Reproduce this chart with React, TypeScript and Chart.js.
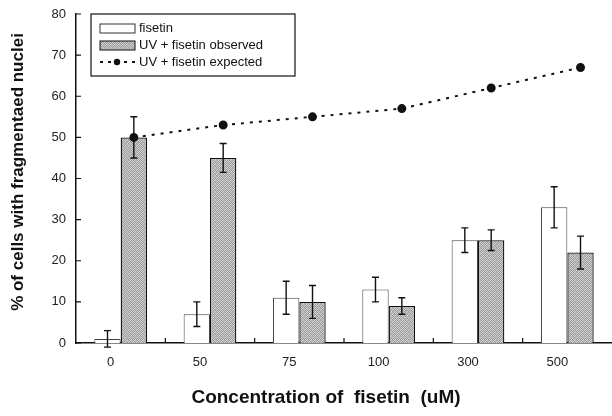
import React, { useEffect, useRef } from "react";
import { Chart, registerables } from "chart.js";

Chart.register(...registerables);

const categories = ["0", "50", "75", "100", "300", "500"];
const fisetin = [1, 7, 11, 13, 25, 33];
const fisetinErr = [2, 3, 4, 3, 3, 5];
const uvObserved = [50, 45, 10, 9, 25, 22];
const uvObservedErr = [5, 3.5, 4, 2, 2.5, 4];
const uvExpected = [50, 53, 55, 57, 62, 67];
const yTicks = [0, 10, 20, 30, 40, 50, 60, 70, 80];

const FONT = "'Liberation Sans', Arial, sans-serif";
const CAT_PCT = 0.59;

const grayMatrix = [
  [195, 150, 210, 170],
  [165, 220, 155, 200],
  [210, 160, 190, 148],
  [150, 198, 168, 215],
];

function makePattern(ctx: CanvasRenderingContext2D) {
  const c = document.createElement("canvas");
  c.width = 4;
  c.height = 4;
  const g = c.getContext("2d")!;
  for (let y = 0; y < 4; y++) {
    for (let x = 0; x < 4; x++) {
      const v = grayMatrix[y][x];
      g.fillStyle = `rgb(${v},${v},${v})`;
      g.fillRect(x, y, 1, 1);
    }
  }
  return ctx.createPattern(c, "repeat")!;
}

// Place expected-line points over the centre of the observed bars.
const alignLinePlugin = {
  id: "alignLine",
  beforeDatasetsDraw(chart: any) {
    const lineMeta = chart.getDatasetMeta(0);
    const uvMeta = chart.getDatasetMeta(2);
    lineMeta.data.forEach((pt: any, i: number) => {
      const bar = uvMeta.data[i];
      if (bar) pt.x = bar.x;
    });
  },
};

const errorBarPlugin = {
  id: "errorBars",
  afterDatasetsDraw(chart: any) {
    const ctx = chart.ctx;
    const yScale = chart.scales.y;
    chart.data.datasets.forEach((ds: any, di: number) => {
      if (!ds.errors) return;
      const meta = chart.getDatasetMeta(di);
      meta.data.forEach((bar: any, i: number) => {
        const v = ds.data[i];
        const e = ds.errors[i];
        const x = bar.x;
        const yTop = yScale.getPixelForValue(v + e);
        const yBot = yScale.getPixelForValue(v - e);
        ctx.save();
        ctx.strokeStyle = "#111";
        ctx.lineWidth = 1.4;
        ctx.beginPath();
        ctx.moveTo(x, yTop);
        ctx.lineTo(x, yBot);
        ctx.moveTo(x - 3.5, yTop);
        ctx.lineTo(x + 3.5, yTop);
        ctx.moveTo(x - 3.5, yBot);
        ctx.lineTo(x + 3.5, yBot);
        ctx.stroke();
        ctx.restore();
      });
    });
  },
};

const decorPlugin = {
  id: "decor",
  afterDraw(chart: any) {
    const ctx = chart.ctx;
    const area = chart.chartArea;
    const xScale = chart.scales.x;
    const yScale = chart.scales.y;
    ctx.save();
    ctx.strokeStyle = "#111";
    ctx.lineWidth = 1.2;
    ctx.beginPath();
    yTicks.forEach((t) => {
      const y = yScale.getPixelForValue(t);
      ctx.moveTo(area.left, y);
      ctx.lineTo(area.left + 5, y);
    });
    for (let i = 1; i < categories.length; i++) {
      const x = (xScale.getPixelForValue(i - 1) + xScale.getPixelForValue(i)) / 2;
      ctx.moveTo(x, area.bottom);
      ctx.lineTo(x, area.bottom - 5);
    }
    ctx.stroke();

    // legend
    const lx = 91, ly = 14, lw = 204, lh = 62;
    ctx.fillStyle = "#fff";
    ctx.fillRect(lx, ly, lw, lh);
    ctx.strokeStyle = "#111";
    ctx.lineWidth = 1.2;
    ctx.strokeRect(lx, ly, lw, lh);
    const rows = [28, 45, 62];
    const ds = chart.data.datasets;
    ctx.font = `13px ${FONT}`;
    ctx.textBaseline = "middle";
    ctx.textAlign = "left";
    ctx.fillStyle = "#fff";
    ctx.fillRect(100, rows[0] - 4, 35, 9);
    ctx.strokeStyle = "#333";
    ctx.lineWidth = 1;
    ctx.strokeRect(100, rows[0] - 4, 35, 9);
    ctx.fillStyle = "#111";
    ctx.fillText(ds[1].label, 139, rows[0]);
    ctx.fillStyle = ds[2].backgroundColor;
    ctx.fillRect(100, rows[1] - 4, 35, 9);
    ctx.strokeStyle = "#111";
    ctx.strokeRect(100, rows[1] - 4, 35, 9);
    ctx.fillStyle = "#111";
    ctx.fillText(ds[2].label, 139, rows[1]);
    ctx.setLineDash([3, 5]);
    ctx.lineWidth = 2;
    ctx.beginPath();
    ctx.moveTo(100, rows[2]);
    ctx.lineTo(135, rows[2]);
    ctx.stroke();
    ctx.setLineDash([]);
    ctx.beginPath();
    ctx.arc(117, rows[2], 3.2, 0, Math.PI * 2);
    ctx.fillStyle = "#111";
    ctx.fill();
    ctx.fillText(ds[0].label, 139, rows[2]);

    // axis titles
    ctx.fillStyle = "#111";
    ctx.font = `bold 19px ${FONT}`;
    ctx.textAlign = "center";
    ctx.textBaseline = "middle";
    ctx.fillText("Concentration of  fisetin  (uM)", 326, 398);
    ctx.save();
    ctx.translate(18, 172);
    ctx.rotate(-Math.PI / 2);
    ctx.font = `bold 17px ${FONT}`;
    ctx.fillText("% of cells with fragmentaed nuclei", 0, 0);
    ctx.restore();
    ctx.restore();
  },
};

export default function App() {
  const ref = useRef<HTMLCanvasElement>(null);
  useEffect(() => {
    const canvas = ref.current!;
    const ctx = canvas.getContext("2d")!;
    const pattern = makePattern(ctx);
    const chart = new Chart(canvas, {
      type: "bar",
      data: {
        labels: categories,
        datasets: [
          {
            type: "line",
            label: "UV + fisetin expected",
            data: uvExpected,
            borderColor: "#111",
            borderWidth: 2,
            borderDash: [3, 6],
            pointRadius: 3.5,
            pointBackgroundColor: "#111",
            pointBorderColor: "#111",
            tension: 0,
            clip: false,
            order: 0,
          } as any,
          {
            label: "fisetin",
            data: fisetin,
            errors: fisetinErr,
            backgroundColor: "#fff",
            borderColor: "#444",
            borderWidth: 1,
            categoryPercentage: CAT_PCT,
            barPercentage: 1,
            order: 1,
          } as any,
          {
            label: "UV + fisetin observed",
            data: uvObserved,
            errors: uvObservedErr,
            backgroundColor: pattern,
            borderColor: "#111",
            borderWidth: 1.3,
            categoryPercentage: CAT_PCT,
            barPercentage: 1,
            order: 1,
          } as any,
        ],
      },
      options: {
        responsive: false,
        animation: false,
        layout: { autoPadding: false, padding: { top: 14, left: 0, right: 0, bottom: 0 } },
        plugins: { legend: { display: false }, tooltip: { enabled: false } },
        scales: {
          x: {
            type: "category",
            offset: true,
            grid: { display: false, drawTicks: false },
            border: { display: true, color: "#111", width: 1.5 },
            ticks: {
              color: "#222",
              font: { family: FONT, size: 13 },
              padding: 12,
              labelOffset: -10,
            },
            afterFit: (s: any) => {
              s.height = 73;
              s.paddingLeft = 0;
              s.paddingRight = 0;
            },
          },
          y: {
            min: 0,
            max: 80,
            grid: { display: false, drawTicks: false },
            border: { display: true, color: "#111", width: 1.5 },
            ticks: {
              stepSize: 10,
              color: "#222",
              font: { family: FONT, size: 13 },
              padding: 10,
            },
            afterFit: (s: any) => {
              s.width = 76;
              s.paddingTop = 0;
              s.paddingBottom = 0;
            },
          },
        },
      } as any,
      plugins: [alignLinePlugin, errorBarPlugin, decorPlugin],
    });
    return () => chart.destroy();
  }, []);
  return (
    <div style={{ position: "absolute", left: 0, top: 0, width: 612, height: 416, background: "#fff" }}>
      <canvas ref={ref} width={612} height={416} />
    </div>
  );
}
